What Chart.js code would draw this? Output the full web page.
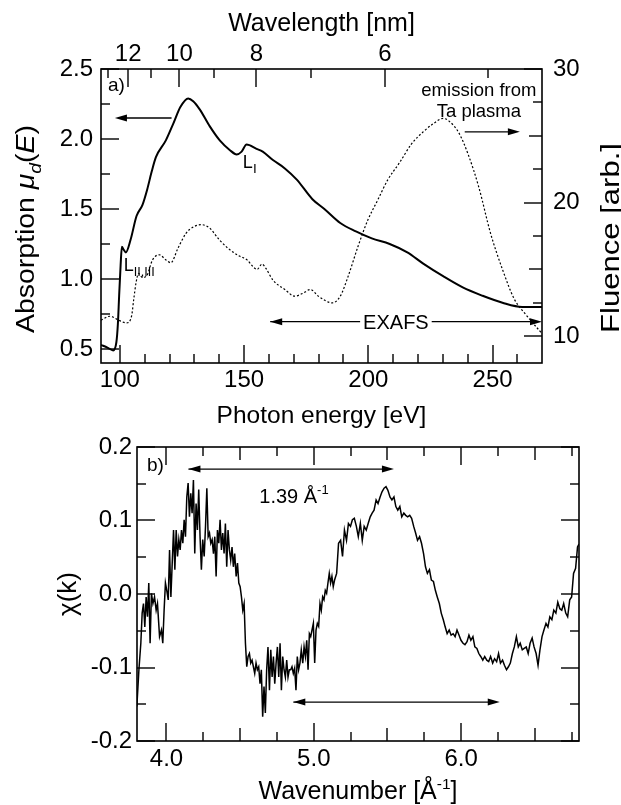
<!DOCTYPE html>
<html>
<head>
<meta charset="utf-8">
<script src="https://cdn.jsdelivr.net/npm/chart.js@4.4.1/dist/chart.umd.min.js"></script>
<style>
  html, body { margin: 0; padding: 0; background: #fff; }
  #wrap { position: relative; width: 621px; height: 805px; }
  canvas { position: absolute; left: 0; }
  #chart-a { top: 0; }
  #chart-b { top: 430px; }
</style>
</head>
<body>
<div id="wrap">
  <canvas id="chart-a" width="621" height="430"></canvas>
  <canvas id="chart-b" width="621" height="375"></canvas>
</div>
<script>
const FONT = '"Liberation Sans", Arial, Helvetica, sans-serif';
const HC = 1239.84; // eV * nm, for the wavelength axis

// panel a) absorption (left axis) and plasma emission (right axis)
const absEnergy = [92.4, 95.0, 97.3, 98.6, 99.2, 99.7, 100.3, 100.8, 101.5, 102.4, 104.3, 106.7, 109.1, 111.0, 112.7, 114.5, 118.5, 121.5, 124.4, 127.5,
    129.5, 132.2, 136.2, 140.2, 144.3, 147.0, 149.0, 151.0, 155.0, 157.5, 161.6, 166.4, 171.2, 177.5, 182.3, 188.7, 195.0, 201.4, 208.6, 215.7,
    222.1, 230.1, 238.0, 246.0, 254.0, 261.9, 269.9];
const absValue = [0.53, 0.51, 0.49, 0.55, 0.68, 0.88, 1.10, 1.23, 1.21, 1.19, 1.28, 1.45, 1.53, 1.64, 1.76, 1.87, 1.99, 2.11, 2.23, 2.29,
    2.27, 2.21, 2.09, 1.99, 1.92, 1.89, 1.91, 1.96, 1.93, 1.91, 1.85, 1.79, 1.71, 1.57, 1.50, 1.40, 1.34, 1.29, 1.25, 1.19,
    1.11, 1.02, 0.94, 0.88, 0.83, 0.80, 0.80];
const emEnergy = [92.4, 96.0, 99.5, 102.7, 104.7, 105.6, 106.5, 107.5, 109.1, 110.7, 113.1, 115.8, 118.6, 120.5, 123.4, 126.6, 129.8, 132.9, 136.1, 140.1,
    144.1, 148.1, 151.3, 153.6, 155.2, 157.2, 158.7, 161.6, 166.4, 170.4, 173.5, 176.7, 179.9, 185.5, 188.7, 191.9, 195.8, 199.8, 203.8, 207.8,
    212.6, 217.4, 222.1, 226.1, 230.1, 232.5, 236.5, 240.4, 244.4, 249.2, 254.0, 258.7, 263.5, 269.9];
const emFluence = [11.2, 11.5, 11.2, 11.0, 11.5, 12.8, 14.0, 14.7, 14.4, 14.5, 15.7, 16.1, 15.7, 15.5, 16.6, 17.7, 18.2, 18.35, 18.1, 17.2,
    16.5, 16.0, 15.7, 15.2, 15.0, 15.4, 15.1, 14.2, 13.5, 13.0, 13.2, 13.5, 13.0, 12.5, 13.0, 14.5, 16.7, 18.7, 20.2, 21.7,
    23.0, 24.4, 25.3, 25.9, 26.3, 26.1, 25.2, 23.5, 21.2, 17.7, 15.0, 12.8, 11.6, 10.2];

const energyTicks = [100, 110, 120, 130, 140, 150, 160, 170, 180, 190, 200, 210, 220, 230, 240, 250, 260];
const energyLabels = [100, 150, 200, 250];
const wavelengthTicks = [13, 12, 11, 10, 9, 8, 7, 6, 5];
const wavelengthLabels = [12, 10, 8, 6];
const absTicks = [0.5, 0.75, 1.0, 1.25, 1.5, 1.75, 2.0, 2.25, 2.5];
const absLabels = [0.5, 1.0, 1.5, 2.0, 2.5];
const fluenceTicks = [10, 12.5, 15, 17.5, 20, 22.5, 25, 27.5, 30];
const fluenceLabels = [10, 20, 30];
const fluenceMid = [15, 25];

// panel b) chi(k)
const kValues = [3.799, 3.813, 3.826, 3.835, 3.844, 3.853, 3.862, 3.871, 3.880, 3.889,
    3.898, 3.908, 3.919, 3.930, 3.939, 3.953, 3.966, 3.975, 3.984, 3.993,
    4.002, 4.012, 4.021, 4.030, 4.039, 4.048, 4.057, 4.066, 4.075, 4.084,
    4.093, 4.102, 4.111, 4.120, 4.129, 4.138, 4.147, 4.156, 4.165, 4.174,
    4.183, 4.192, 4.201, 4.210, 4.219, 4.228, 4.237, 4.246, 4.256, 4.265,
    4.274, 4.283, 4.292, 4.301, 4.310, 4.319, 4.328, 4.337, 4.346, 4.355,
    4.364, 4.373, 4.382, 4.391, 4.400, 4.409, 4.418, 4.427, 4.436, 4.445,
    4.454, 4.463, 4.473, 4.482, 4.491, 4.500, 4.509, 4.518, 4.527, 4.536,
    4.545, 4.554, 4.563, 4.572, 4.581, 4.590, 4.599, 4.608, 4.617, 4.626,
    4.635, 4.644, 4.653, 4.662, 4.671, 4.680, 4.689, 4.699, 4.708, 4.717,
    4.726, 4.735, 4.744, 4.753, 4.762, 4.771, 4.780, 4.789, 4.798, 4.807,
    4.816, 4.825, 4.834, 4.843, 4.852, 4.861, 4.870, 4.879, 4.888, 4.897,
    4.906, 4.915, 4.925, 4.934, 4.943, 4.952, 4.961, 4.970, 4.979, 4.988,
    4.997, 5.006, 5.015, 5.024, 5.033, 5.042, 5.051, 5.060, 5.069, 5.078,
    5.087, 5.096, 5.105, 5.114, 5.123, 5.132, 5.141,
    5.155, 5.168, 5.182, 5.195, 5.208, 5.222, 5.235, 5.249, 5.262, 5.275,
    5.289, 5.302, 5.316, 5.329, 5.342, 5.356, 5.369, 5.383, 5.396, 5.409,
    5.423, 5.436, 5.450, 5.463, 5.477, 5.490, 5.503, 5.517, 5.530, 5.544,
    5.557, 5.570, 5.584, 5.597, 5.611, 5.624, 5.637, 5.651, 5.664, 5.678,
    5.691, 5.704, 5.718, 5.731, 5.745, 5.758, 5.771, 5.785, 5.798, 5.812,
    5.825, 5.838, 5.852, 5.865, 5.879, 5.892, 5.905, 5.919, 5.932, 5.946,
    5.959, 5.972, 5.986, 5.999, 6.013, 6.026, 6.040, 6.053, 6.066, 6.080,
    6.093, 6.107, 6.120, 6.133, 6.147, 6.160, 6.174, 6.187, 6.200, 6.214,
    6.227, 6.241, 6.254, 6.267, 6.281, 6.294, 6.308, 6.321, 6.334, 6.348,
    6.361, 6.375, 6.388, 6.401, 6.415, 6.428, 6.442, 6.455, 6.468, 6.482,
    6.495, 6.509, 6.522, 6.535, 6.549, 6.562, 6.576, 6.589, 6.602, 6.616,
    6.629, 6.643, 6.656, 6.670, 6.683, 6.696, 6.710, 6.723, 6.737, 6.750,
    6.763, 6.777, 6.790, 6.800];
const chiValues = [-0.153, -0.103, -0.067, -0.026, -0.013, -0.045, -0.004, -0.031, 0.015, -0.067,
    0.001, -0.013, -0.004, -0.022, -0.013, -0.058, -0.049, -0.067, -0.022, 0.015,
    0.005, -0.008, 0.060, -0.004, 0.042, 0.087, 0.033, 0.087, 0.051, 0.074,
    0.060, 0.087, 0.069, 0.101, 0.078, 0.132, 0.151, 0.105, 0.137, 0.110,
    0.155, 0.055, 0.123, 0.087, 0.142, 0.078, 0.033, 0.074, 0.051, 0.092,
    0.144, 0.078, 0.083, 0.069, 0.074, 0.055, 0.078, 0.024, 0.087, 0.069,
    0.101, 0.060, 0.083, 0.055, 0.096, 0.037, 0.087, 0.060, 0.046, 0.064,
    0.037, 0.055, 0.024, 0.042, 0.015, 0.010, -0.004, -0.022, -0.013, -0.067,
    -0.099, -0.085, -0.081, -0.094, -0.090, -0.099, -0.108, -0.094, -0.103, -0.099,
    -0.122, -0.103, -0.167, -0.126, -0.162, -0.103, -0.072, -0.131, -0.076, -0.113,
    -0.085, -0.122, -0.094, -0.072, -0.113, -0.067, -0.131, -0.085, -0.103, -0.113,
    -0.090, -0.113, -0.103, -0.103, -0.099, -0.108, -0.101, -0.131, -0.085, -0.103,
    -0.094, -0.076, -0.094, -0.072, -0.085, -0.063, -0.103, -0.054, -0.058, -0.049,
    -0.040, -0.094, -0.049, -0.040, -0.044, -0.013, -0.022, -0.004, -0.008, 0.005,
    0.001, 0.015, 0.028, 0.015, 0.024, 0.010, 0.019,
    0.028, 0.069, 0.073, 0.051, 0.087, 0.073, 0.096, 0.092, 0.101, 0.103,
    0.092, 0.078, 0.096, 0.073, 0.092, 0.087, 0.096, 0.105, 0.110, 0.114,
    0.128, 0.123, 0.132, 0.139, 0.144, 0.146, 0.141, 0.132, 0.128, 0.132,
    0.119, 0.114, 0.119, 0.105, 0.110, 0.107, 0.105, 0.107, 0.103, 0.092,
    0.083, 0.073, 0.078, 0.069, 0.055, 0.037, 0.028, 0.033, 0.019, 0.017,
    0.005, -0.004, -0.013, -0.026, -0.035, -0.045, -0.054, -0.049, -0.056, -0.054,
    -0.058, -0.049, -0.056, -0.063, -0.067, -0.069, -0.065, -0.056, -0.063, -0.058,
    -0.072, -0.074, -0.081, -0.085, -0.090, -0.085, -0.090, -0.092, -0.085, -0.094,
    -0.088, -0.092, -0.081, -0.094, -0.090, -0.097, -0.103, -0.099, -0.094, -0.081,
    -0.072, -0.058, -0.072, -0.067, -0.076, -0.074, -0.072, -0.081, -0.067, -0.060,
    -0.072, -0.081, -0.097, -0.076, -0.058, -0.049, -0.040, -0.045, -0.031, -0.035,
    -0.022, -0.026, -0.011, -0.020, -0.022, -0.013, -0.026, -0.031, -0.008, -0.004,
    0.028, 0.035, 0.064, 0.068];

const kTicks = [4.0, 4.25, 4.5, 4.75, 5.0, 5.25, 5.5, 5.75, 6.0, 6.25, 6.5, 6.75];
const kLabels = [4.0, 5.0, 6.0];
const kMid = [4.5, 5.5, 6.5];
const chiTicks = [-0.2, -0.15, -0.1, -0.05, 0.0, 0.05, 0.1, 0.15, 0.2];
const chiLabels = [-0.2, -0.1, 0.0, 0.1, 0.2];

Chart.defaults.font.family = FONT;
Chart.defaults.color = '#000';

function pairs(xs, ys) {
    return xs.map((x, i) => ({x: x, y: ys[i]}));
}

function has(list, v) {
    return list.some(l => Math.abs(l - v) < 1e-6);
}

function fixedTicks(values) {
    return function (scale) {
        scale.ticks = values.map(v => ({value: v}));
    };
}

function fixedSize(size) {
    return function (scale) {
        if (scale.isHorizontal()) scale.height = size;
        else scale.width = size;
    };
}

function axis(extra) {
    return Object.assign({
        type: 'linear',
        grid: {display: false, drawTicks: false},
        border: {display: false}
    }, extra);
}

function tickOpts(padding, callback) {
    return {
        autoSkip: false, maxRotation: 0, minRotation: 0,
        padding: padding, color: '#000',
        font: {family: FONT, size: 24, lineHeight: 1},
        callback: callback
    };
}

// mixed text: runs of {t, it, sub, sup, k}
function runFont(r, size) {
    const s = (r.sub || r.sup) ? size * (r.k || 0.62) : size;
    return (r.it ? 'italic ' : '') + s + 'px ' + FONT;
}

function runsWidth(ctx, runs, size) {
    return runs.reduce((w, r) => {
        ctx.font = runFont(r, size);
        return w + ctx.measureText(r.t).width;
    }, 0);
}

function drawRuns(ctx, runs, x, y, size, align) {
    let cx = align === 'center' ? x - runsWidth(ctx, runs, size) / 2 : x;
    ctx.textAlign = 'left';
    ctx.textBaseline = 'alphabetic';
    runs.forEach(r => {
        ctx.font = runFont(r, size);
        const dy = r.sub ? size * 0.28 : (r.sup ? -size * 0.42 : 0);
        ctx.fillText(r.t, cx, y + dy);
        cx += ctx.measureText(r.t).width;
    });
}

function drawVertical(ctx, runs, baseX, centerY, size, length) {
    ctx.save();
    ctx.translate(baseX, centerY);
    ctx.rotate(-Math.PI / 2);
    const w = runsWidth(ctx, runs, size);
    if (length) ctx.scale(length / w, 1);
    drawRuns(ctx, runs, 0, 0, size, 'center');
    ctx.restore();
}

function head(ctx, x, y, dir) {
    ctx.beginPath();
    ctx.moveTo(x, y);
    ctx.lineTo(x - dir * 12, y - 3.5);
    ctx.lineTo(x - dir * 12, y + 3.5);
    ctx.closePath();
    ctx.fill();
}

function arrow(ctx, x1, x2, y, both) {
    const dir = Math.sign(x2 - x1);
    ctx.beginPath();
    ctx.moveTo(x1, y);
    ctx.lineTo(x2 - dir * 6, y);
    ctx.stroke();
    head(ctx, x2, y, dir);
    if (both) head(ctx, x1, y, -dir);
}

// inward tick marks and box, placed with the chart's own scales
function drawFrame(chart, marks) {
    const ctx = chart.ctx;
    const a = chart.chartArea;
    ctx.save();
    ctx.fillStyle = '#000';
    marks.forEach(m => {
        const s = chart.scales[m.scale];
        m.values.forEach(v => {
            const len = has(m.labels, v) ? 18 : (has(m.mid || [], v) ? 13 : 9);
            const p = Math.round(s.getPixelForValue(v));
            if (m.side === 'left') ctx.fillRect(a.left, p - 0.7, len, 1.4);
            else if (m.side === 'right') ctx.fillRect(a.right - len, p - 0.7, len, 1.4);
            else if (m.side === 'bottom') ctx.fillRect(p - 0.7, a.bottom - len, 1.4, len);
            else ctx.fillRect(p - 0.7, a.top, 1.4, len);
        });
    });
    ctx.strokeStyle = '#000';
    ctx.lineWidth = 1.6;
    ctx.strokeRect(a.left, a.top, a.right - a.left, a.bottom - a.top);
    ctx.restore();
}

const marksA = [
    {scale: 'y', side: 'left', values: absTicks, labels: absLabels},
    {scale: 'y2', side: 'right', values: fluenceTicks, labels: fluenceLabels, mid: fluenceMid},
    {scale: 'x', side: 'bottom', values: energyTicks, labels: energyLabels},
    {scale: 'x2', side: 'top', values: wavelengthTicks.map(l => HC / l), labels: wavelengthLabels.map(l => HC / l)}
];
const marksB = [
    {scale: 'y', side: 'left', values: chiTicks, labels: chiLabels},
    {scale: 'y', side: 'right', values: chiTicks, labels: chiLabels},
    {scale: 'x', side: 'bottom', values: kTicks, labels: kLabels, mid: kMid},
    {scale: 'x', side: 'top', values: kTicks, labels: kLabels, mid: kMid}
];

const annotateA = {
    id: 'annotateA',
    afterDraw(chart) {
        const {ctx, chartArea: a} = chart;
        const {x, y, y2} = chart.scales;
        drawFrame(chart, marksA);
        ctx.save();
        ctx.fillStyle = '#000';
        ctx.strokeStyle = '#000';
        ctx.lineWidth = 1.3;

        drawRuns(ctx, [{t: 'Wavelength [nm]'}], (a.left + a.right) / 2, a.top - 38, 25, 'center');
        drawRuns(ctx, [{t: 'Photon energy [eV]'}], (a.left + a.right) / 2, a.bottom + 60, 24.5, 'center');
        drawVertical(ctx, [{t: 'Absorption '}, {t: 'μ', it: 1}, {t: 'd', it: 1, sub: 1, k: 0.68}, {t: '('}, {t: 'E', it: 1}, {t: ')'}],
            34, (a.top + a.bottom) / 2 + 13, 25, 208);
        drawVertical(ctx, [{t: 'Fluence [arb.]'}], 619, (a.top + a.bottom) / 2 + 22, 25, 190);

        drawRuns(ctx, [{t: 'a)'}], a.left + 7, a.top + 22, 19, 'left');

        // arrows pointing to the axis each curve belongs to
        arrow(ctx, x.getPixelForValue(120.8), x.getPixelForValue(98.0), y.getPixelForValue(2.15));
        arrow(ctx, x.getPixelForValue(238.8), x.getPixelForValue(261.0), y2.getPixelForValue(25.3));
        drawRuns(ctx, [{t: 'emission from'}], x.getPixelForValue(244.5), y2.getPixelForValue(28.0), 18.5, 'center');
        drawRuns(ctx, [{t: 'Ta plasma'}], x.getPixelForValue(244.5), y2.getPixelForValue(26.42), 18.5, 'center');

        // edge labels
        drawRuns(ctx, [{t: 'L'}, {t: 'I', sub: 1, k: 0.75}], x.getPixelForValue(149.5), y.getPixelForValue(1.793), 18, 'left');
        drawRuns(ctx, [{t: 'L'}, {t: 'II,III', sub: 1, k: 0.7}], x.getPixelForValue(101.6), y.getPixelForValue(1.057), 18, 'left');

        // EXAFS range
        const ey = y.getPixelForValue(0.695);
        arrow(ctx, x.getPixelForValue(160.5), x.getPixelForValue(269.9), ey, true);
        ctx.font = '20px ' + FONT;
        const tx = x.getPixelForValue(211.1);
        const tw = ctx.measureText('EXAFS').width;
        ctx.fillStyle = '#fff';
        ctx.fillRect(tx - tw / 2 - 3, ey - 9, tw + 6, 18);
        ctx.fillStyle = '#000';
        drawRuns(ctx, [{t: 'EXAFS'}], tx, ey + 7.5, 20, 'center');
        ctx.restore();
    }
};

const annotateB = {
    id: 'annotateB',
    afterDraw(chart) {
        const {ctx, chartArea: a} = chart;
        const {x, y} = chart.scales;
        drawFrame(chart, marksB);
        ctx.save();
        ctx.fillStyle = '#000';
        ctx.strokeStyle = '#000';
        ctx.lineWidth = 1.3;

        drawRuns(ctx, [{t: 'Wavenumber [Å'}, {t: '-1', sup: 1}, {t: ']'}], (a.left + a.right) / 2, a.bottom + 58, 25, 'center');
        drawVertical(ctx, [{t: 'χ(k)'}], 76, (a.top + a.bottom) / 2, 25, 44);
        drawRuns(ctx, [{t: 'b)'}], a.left + 10, a.top + 24, 19, 'left');

        arrow(ctx, x.getPixelForValue(4.149), x.getPixelForValue(5.544), y.getPixelForValue(0.170), true);
        drawRuns(ctx, [{t: '1.39 Å'}, {t: '-1', sup: 1, k: 0.65}], x.getPixelForValue(4.63), y.getPixelForValue(0.124), 20, 'left');
        arrow(ctx, x.getPixelForValue(4.861), x.getPixelForValue(6.262), y.getPixelForValue(-0.147), true);
        ctx.restore();
    }
};

new Chart(document.getElementById('chart-a'), {
    type: 'line',
    data: {
        datasets: [{
            label: 'absorption',
            data: pairs(absEnergy, absValue),
            xAxisID: 'x', yAxisID: 'y',
            borderColor: '#000', borderWidth: 2,
            pointRadius: 0, cubicInterpolationMode: 'monotone', fill: false
        }, {
            label: 'emission',
            data: pairs(emEnergy, emFluence),
            xAxisID: 'x', yAxisID: 'y2',
            borderColor: '#000', borderWidth: 1.2, borderDash: [2, 2],
            pointRadius: 0, cubicInterpolationMode: 'monotone', fill: false
        }]
    },
    options: {
        responsive: false, animation: false, events: [], devicePixelRatio: 1,
        layout: {padding: 0, autoPadding: false},
        plugins: {legend: {display: false}, tooltip: {enabled: false}},
        scales: {
            x: axis({
                position: 'bottom', min: 92.4, max: 269.9,
                afterBuildTicks: fixedTicks(energyTicks), afterFit: fixedSize(67),
                ticks: tickOpts(5, v => has(energyLabels, v) ? String(v) : '')
            }),
            x2: axis({
                position: 'top', min: 92.4, max: 269.9,
                afterBuildTicks: fixedTicks(wavelengthTicks.map(l => HC / l)), afterFit: fixedSize(69),
                ticks: tickOpts(3, v => {
                    const l = Math.round(HC / v);
                    return wavelengthLabels.includes(l) ? String(l) : '';
                })
            }),
            y: axis({
                position: 'left', min: 0.4, max: 2.5,
                afterBuildTicks: fixedTicks(absTicks), afterFit: fixedSize(101),
                ticks: tickOpts(8, v => has(absLabels, v) ? v.toFixed(1) : '')
            }),
            y2: axis({
                position: 'right', min: 8, max: 30,
                afterBuildTicks: fixedTicks(fluenceTicks), afterFit: fixedSize(79),
                ticks: tickOpts(11, v => has(fluenceLabels, v) ? String(v) : '')
            })
        }
    },
    plugins: [annotateA]
});

new Chart(document.getElementById('chart-b'), {
    type: 'line',
    data: {
        datasets: [{
            label: 'chi',
            data: pairs(kValues, chiValues),
            borderColor: '#000', borderWidth: 1.5,
            pointRadius: 0, tension: 0, fill: false
        }]
    },
    options: {
        responsive: false, animation: false, events: [], devicePixelRatio: 1,
        layout: {padding: {top: 17, right: 42, bottom: 0, left: 0}, autoPadding: false},
        plugins: {legend: {display: false}, tooltip: {enabled: false}},
        scales: {
            x: axis({
                position: 'bottom', min: 3.8, max: 6.8,
                afterBuildTicks: fixedTicks(kTicks), afterFit: fixedSize(64),
                ticks: tickOpts(6, v => has(kLabels, v) ? v.toFixed(1) : '')
            }),
            y: axis({
                position: 'left', min: -0.2, max: 0.2,
                afterBuildTicks: fixedTicks(chiTicks), afterFit: fixedSize(137),
                ticks: tickOpts(5, v => has(chiLabels, v) ? (Math.abs(v) < 1e-9 ? '0.0' : v.toFixed(1)) : '')
            })
        }
    },
    plugins: [annotateB]
});
</script>
</body>
</html>
